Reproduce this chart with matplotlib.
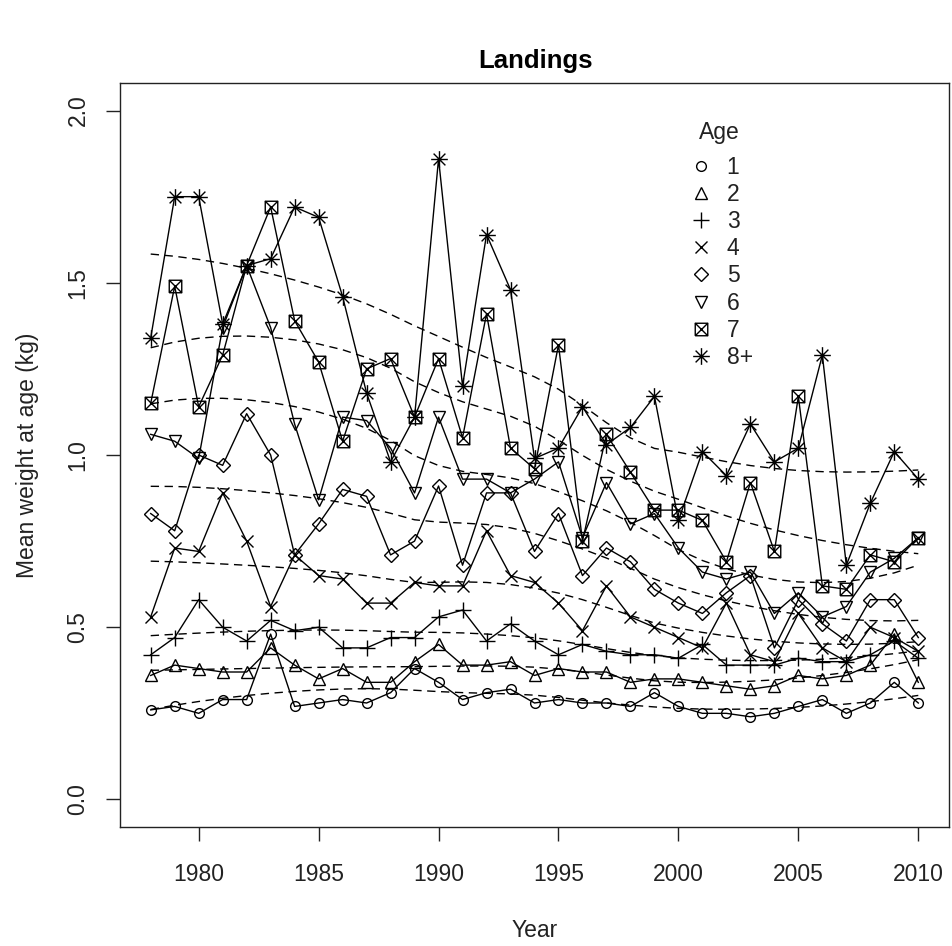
import numpy as np
import matplotlib
matplotlib.use("Agg")
import matplotlib.pyplot as plt
from matplotlib.path import Path
from matplotlib.lines import Line2D

plt.rcParams['font.family'] = ['Liberation Sans', 'DejaVu Sans']

years = list(range(1978, 2011))
ages = ["1", "2", "3", "4", "5", "6", "7", "8+"]

w1 = [0.26, 0.27, 0.25, 0.29, 0.29, 0.48, 0.27, 0.28, 0.29, 0.28, 0.31, 0.38, 0.34, 0.29, 0.31, 0.32, 0.28,
      0.29, 0.28, 0.28, 0.27, 0.31, 0.27, 0.25, 0.25, 0.24, 0.25, 0.27, 0.29, 0.25, 0.28, 0.34, 0.28]
w2 = [0.36, 0.39, 0.38, 0.37, 0.37, 0.44, 0.39, 0.35, 0.38, 0.34, 0.34, 0.40, 0.45, 0.39, 0.39, 0.40, 0.36,
      0.38, 0.37, 0.37, 0.34, 0.35, 0.35, 0.34, 0.33, 0.32, 0.33, 0.36, 0.35, 0.36, 0.39, 0.48, 0.34]
w3 = [0.42, 0.47, 0.58, 0.50, 0.46, 0.52, 0.49, 0.50, 0.44, 0.44, 0.47, 0.47, 0.53, 0.55, 0.46, 0.51, 0.46,
      0.42, 0.45, 0.43, 0.42, 0.42, 0.41, 0.45, 0.39, 0.39, 0.39, 0.41, 0.40, 0.40, 0.42, 0.46, 0.41]
w4 = [0.53, 0.73, 0.72, 0.89, 0.75, 0.56, 0.71, 0.65, 0.64, 0.57, 0.57, 0.63, 0.62, 0.62, 0.78, 0.65, 0.63,
      0.57, 0.49, 0.62, 0.53, 0.50, 0.47, 0.44, 0.57, 0.42, 0.40, 0.54, 0.44, 0.40, 0.50, 0.47, 0.43]
w5 = [0.83, 0.78, 1.00, 0.97, 1.12, 1.00, 0.71, 0.80, 0.90, 0.88, 0.71, 0.75, 0.91, 0.68, 0.89, 0.89, 0.72,
      0.83, 0.65, 0.73, 0.69, 0.61, 0.57, 0.54, 0.60, 0.65, 0.44, 0.58, 0.51, 0.46, 0.58, 0.58, 0.47]
w6 = [1.06, 1.04, 0.99, 1.37, 1.55, 1.37, 1.09, 0.87, 1.11, 1.10, 1.02, 0.89, 1.11, 0.93, 0.93, 0.89, 0.93,
      0.98, 0.76, 0.92, 0.80, 0.83, 0.73, 0.66, 0.64, 0.66, 0.54, 0.60, 0.53, 0.56, 0.66, 0.70, 0.76]
w7 = [1.15, 1.49, 1.14, 1.29, 1.55, 1.72, 1.39, 1.27, 1.04, 1.25, 1.28, 1.11, 1.28, 1.05, 1.41, 1.02, 0.96,
      1.32, 0.75, 1.06, 0.95, 0.84, 0.84, 0.81, 0.69, 0.92, 0.72, 1.17, 0.62, 0.61, 0.71, 0.69, 0.76]
w8 = [1.34, 1.75, 1.75, 1.38, 1.55, 1.57, 1.72, 1.69, 1.46, 1.18, 0.98, 1.11, 1.86, 1.20, 1.64, 1.48, 0.99,
      1.02, 1.14, 1.03, 1.08, 1.17, 0.81, 1.01, 0.94, 1.09, 0.98, 1.02, 1.29, 0.68, 0.86, 1.01, 0.93]

series = [w1, w2, w3, w4, w5, w6, w7, w8]


def loess(x, y, span=0.75, degree=2):
    x = np.asarray(x, float)
    y = np.asarray(y, float)
    n = len(x)
    q = int(np.floor(n * span))
    fit = np.empty(n)
    for i, x0 in enumerate(x):
        d = np.abs(x - x0)
        h = np.sort(d)[q - 1]
        u = np.clip(d / h, 0, 1)
        wts = (1 - u ** 3) ** 3
        X = np.vander(x - x0, degree + 1, increasing=True)
        W = np.sqrt(wts)
        beta, *_ = np.linalg.lstsq(X * W[:, None], y * W, rcond=None)
        fit[i] = beta[0]
    return fit


# custom markers (R pch 7 and pch 8)
sq_x = Path([(-1, -1), (1, -1), (1, 1), (-1, 1), (-1, -1), (-1, -1), (1, 1), (-1, 1), (1, -1)],
            [Path.MOVETO, Path.LINETO, Path.LINETO, Path.LINETO, Path.LINETO,
             Path.MOVETO, Path.LINETO, Path.MOVETO, Path.LINETO])
ast = Path([(-1, 0), (1, 0), (0, -1), (0, 1), (-0.707, -0.707), (0.707, 0.707), (-0.707, 0.707), (0.707, -0.707)],
           [Path.MOVETO, Path.LINETO, Path.MOVETO, Path.LINETO, Path.MOVETO, Path.LINETO, Path.MOVETO, Path.LINETO])

marker_specs = [
    dict(marker='o', markersize=7),
    dict(marker='^', markersize=9),
    dict(marker='+', markersize=12),
    dict(marker='x', markersize=8),
    dict(marker='D', markersize=7),
    dict(marker='v', markersize=9),
    dict(marker=sq_x, markersize=9),
    dict(marker=ast, markersize=12),
]

TXT = '#222222'
fig = plt.figure(figsize=(9.52, 9.46), dpi=100)
ax = fig.add_axes([120 / 952, 1 - 827 / 946, 829 / 952, 744 / 946])

handles = []
for vals, spec, lab in zip(series, marker_specs, ages):
    ax.plot(years, vals, color='black', lw=1.0, markerfacecolor='none',
            markeredgecolor='black', markeredgewidth=1.0, **spec)
    ax.plot(years, loess(years, vals), color='black', lw=1.0, linestyle=(0, (6, 4)))
    handles.append(Line2D([], [], linestyle='none', color='black', markerfacecolor='none',
                          markeredgewidth=1.0, **spec))

ax.set_xlim(1976.72, 2011.28)
ax.set_ylim(-0.08, 2.08)
ax.set_xticks([1980, 1985, 1990, 1995, 2000, 2005, 2010])
ax.set_yticks([0.0, 0.5, 1.0, 1.5, 2.0])
ax.set_yticklabels(["0.0", "0.5", "1.0", "1.5", "2.0"], rotation=90, va='center')
ax.tick_params(direction='out', length=10, width=1.0, labelsize=16.5, colors=TXT, pad=12)
ax.tick_params(axis='x', pad=16)
for sp in ax.spines.values():
    sp.set_linewidth(1.0)
    sp.set_color(TXT)

ax.set_xlabel("Year", fontsize=16.5, color=TXT, labelpad=24)
ax.set_ylabel("Mean weight at age (kg)", fontsize=16.5, color=TXT, labelpad=20)
fig.text(536 / 952, 1 - 61 / 946, "Landings", ha='center', va='center', fontsize=18.5,
         fontweight='bold')

fig.text(719 / 952, 1 - 132 / 946, "Age", ha='center', va='center', fontsize=16.5, color=TXT)
leg = ax.legend(handles, ages, frameon=False, loc='upper left',
                bbox_to_anchor=(690 / 952, 1 - 156 / 946), bbox_transform=fig.transFigure,
                fontsize=16.5, handlelength=1.0, handletextpad=0.6,
                labelspacing=0.18, borderpad=0, borderaxespad=0)
for t in leg.get_texts():
    t.set_color(TXT)

fig.savefig("out.png", dpi=100)
